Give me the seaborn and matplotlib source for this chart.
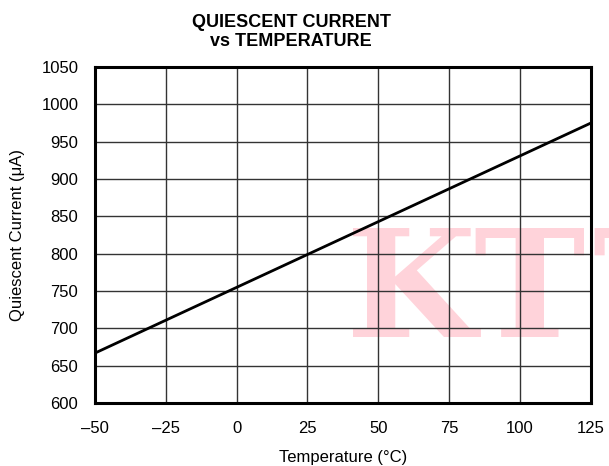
import matplotlib
matplotlib.use("Agg")
import matplotlib.pyplot as plt
import seaborn as sns
import pandas as pd

# values
temperature = [-50, -25, 0, 25, 50, 75, 100, 125]
current_ua = [667, 711, 755, 799, 843, 887, 931, 975]
x_ticks = [-50, -25, 0, 25, 50, 75, 100, 125]
y_ticks = [600, 650, 700, 750, 800, 850, 900, 950, 1000, 1050]

sns.set_style("white")
plt.rcParams['font.family'] = ['Liberation Sans', 'DejaVu Sans']
for key in ['text.color', 'axes.labelcolor', 'xtick.color', 'ytick.color']:
    plt.rcParams[key] = 'black'

df = pd.DataFrame({'Temperature': temperature, 'Current': current_ua})

fig = plt.figure(figsize=(6.09, 4.66), dpi=100)
ax = fig.add_axes([0.156, 0.135, 0.814, 0.721])

# pink watermark, sitting under the grid lines
for letter, xpx in [("K", 346), ("T", 473), ("T", 592)]:
    ax.text(xpx / 609, 1 - 337 / 466, letter, transform=fig.transFigure,
            fontsize=108, fontweight='bold', family='DejaVu Serif',
            color='#ffd3da', ha='left', va='baseline', zorder=0.1, clip_on=False)

sns.lineplot(data=df, x='Temperature', y='Current', ax=ax, color='black', linewidth=2.0, zorder=5)

ax.set_xlim(-50, 125)
ax.set_ylim(600, 1050)
ax.set_xticks(x_ticks)
ax.set_yticks(y_ticks)
ax.set_xticklabels([str(t).replace('-', '\u2013') for t in x_ticks])
ax.grid(True, color='#333333', linewidth=1.0, zorder=1)
ax.tick_params(axis='both', labelsize=12, length=0)
ax.tick_params(axis='y', pad=12)
ax.tick_params(axis='x', pad=13)

for sp in ax.spines.values():
    sp.set_visible(True)
    sp.set_color('black')
    sp.set_linewidth(2.2)

ax.set_xlabel("Temperature (\u00b0C)", fontsize=12, labelpad=10)
ax.set_ylabel("Quiescent Current (\u03bcA)", fontsize=12, labelpad=12)
fig.text(0.478, 1 - 32 / 466, "QUIESCENT CURRENT\nvs TEMPERATURE", fontsize=13,
         fontweight='bold', linespacing=1.1, ha='center', va='center')

fig.savefig("out.png", dpi=100)
